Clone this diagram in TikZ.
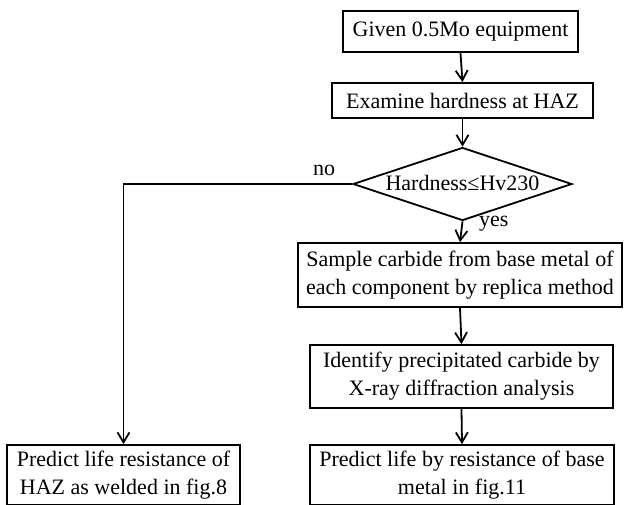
\documentclass[tikz,border=0pt]{standalone}
\usepackage{fontspec}
\setmainfont{Liberation Serif}
\usetikzlibrary{shapes.geometric,arrows.meta}
\begin{document}
\begin{tikzpicture}[x=1pt,y=-1pt,
  font=\fontsize{22}{28}\selectfont,
  box/.style={draw,line width=1.8pt,inner sep=0pt,align=center},
  conn/.style={line width=1.8pt,-{Straight Barb[length=10pt,width=12pt,line width=1.8pt]}},
  lbl/.style={inner sep=0pt}]
\useasboundingbox (0,0) rectangle (624,504);
\node[box,minimum width=235,minimum height=41] (b1) at (460.5,31.5) {Given 0.5Mo equipment};
\node[box,minimum width=261,minimum height=35] (b2) at (462.5,100.5) {Examine hardness at HAZ};
\node[diamond,draw,line width=1.8pt,minimum width=219,minimum height=73,inner sep=0pt] (d) at (462.5,184) {};
\node[lbl] (dt) at (462.5,183) {Hardness≤Hv230};
\node[box,minimum width=324,minimum height=64] (s) at (460,275) {Sample carbide from base metal of\\each component by replica method};
\node[box,minimum width=303,minimum height=63] (id) at (461.5,376.5) {Identify precipitated carbide by\\X-ray diffraction analysis};
\node[box,minimum width=233,minimum height=60] (lb) at (123.5,475) {Predict life resistance of\\HAZ as welded in fig.8};
\node[box,minimum width=304,minimum height=60] (rb) at (462,475) {Predict life by resistance of base\\metal in fig.11};
\node[lbl] (no) at (324,170) {no};
\node[lbl,anchor=west] (yes) at (479,224) {yes};
\draw[conn] (b1.south) -- (b2.north);
\draw[conn] (b2.south) -- (d.north);
\draw[conn] (d.south) -- (s.north);
\draw[conn] (s.south) -- (id.north);
\draw[conn] (id.south) -- (rb.north);
\draw[conn] (d.west) -| (lb.north);
\end{tikzpicture}
\end{document}
